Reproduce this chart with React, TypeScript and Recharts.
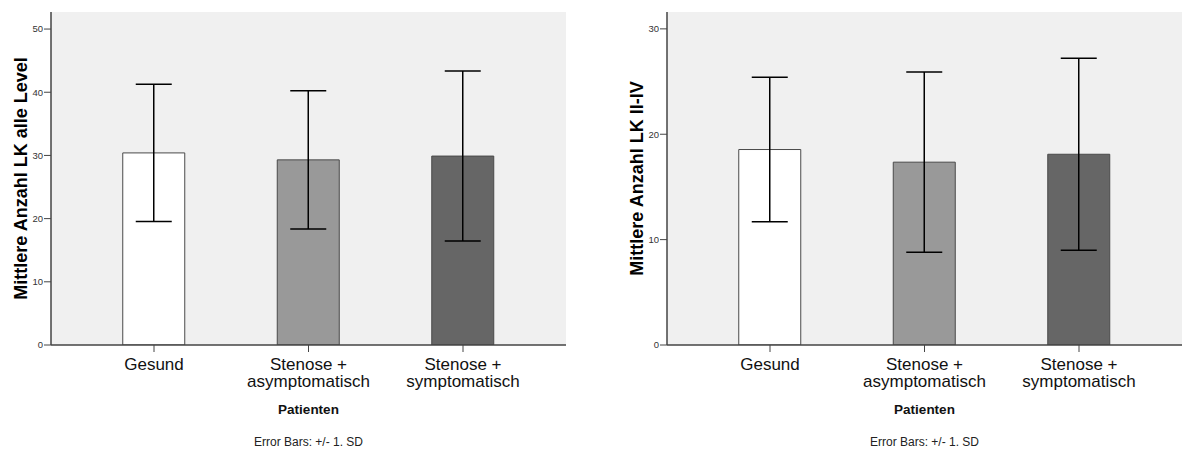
import React from 'react';
import {
  BarChart,
  Bar,
  Cell,
  XAxis,
  YAxis,
  CartesianGrid,
  ErrorBar,
} from 'recharts';

// Gruppen (x-Achse)
const categories = ['Gesund', 'Stenose + asymptomatisch', 'Stenose + symptomatisch'];
const barFills = ['#ffffff', '#999999', '#666666'];

// Linkes Diagramm: alle Level
const allLevelMeans = [30.4, 29.3, 29.9];
const allLevelSD = [10.85, 10.95, 13.45];
const allLevelTicks = [0, 10, 20, 30, 40, 50];

// Rechtes Diagramm: Level II-IV
const level24Means = [18.55, 17.35, 18.1];
const level24SD = [6.85, 8.55, 9.1];
const level24Ticks = [0, 10, 20, 30];

const FONT = "Arial, 'Liberation Sans', sans-serif";
const LINE = '#444444';

const buildData = (means: number[], sds: number[]) =>
  categories.map((name, i) => ({ name, mean: means[i], sd: sds[i] }));

const CategoryTick = (props: any) => {
  const { x, y, payload } = props;
  const label: string = payload.value;
  const lines = label.includes(' + ') ? [label.split(' + ')[0] + ' +', label.split(' + ')[1]] : [label];
  return (
    <text x={x} y={y} textAnchor="middle" fontFamily={FONT} fontSize={17} fill="#111">
      {lines.map((l, i) => (
        <tspan key={i} x={x} dy={i === 0 ? 18 : 17}>
          {l}
        </tspan>
      ))}
    </text>
  );
};

type PanelProps = {
  width: number;
  means: number[];
  sds: number[];
  ticks: number[];
  yMax: number;
  yAxisWidth: number;
  marginRight: number;
  title: string;
  titleX: number;
};

const Panel: React.FC<PanelProps> = ({
  width,
  means,
  sds,
  ticks,
  yMax,
  yAxisWidth,
  marginRight,
  title,
  titleX,
}) => {
  const data = buildData(means, sds);
  return (
    <BarChart
      width={width}
      height={450}
      data={data}
      margin={{ top: 12, right: marginRight, left: 0, bottom: 0 }}
    >
      <CartesianGrid horizontal={false} vertical={false} fill="#f0f0f0" />
      <XAxis
        dataKey="name"
        height={105}
        tickSize={7}
        tickMargin={0}
        padding={{ left: 25.75, right: 25.75 }}
        axisLine={{ stroke: LINE, strokeWidth: 1.5 }}
        tickLine={{ stroke: LINE }}
        tick={<CategoryTick />}
        interval={0}
        label={{
          content: ({ viewBox }: any) => {
            const cx = viewBox.x + viewBox.width / 2;
            return (
              <g fontFamily={FONT}>
                <text x={cx} y={viewBox.y + 69} textAnchor="middle" fontSize={13.5} fontWeight="bold" fill="#111">
                  Patienten
                </text>
                <text x={cx} y={viewBox.y + 101} textAnchor="middle" fontSize={12} fill="#222">
                  Error Bars: +/- 1. SD
                </text>
              </g>
            );
          },
        }}
      />
      <XAxis xAxisId="top" orientation="top" dataKey="name" height={0} tick={false} tickLine={false} axisLine={{ stroke: LINE, strokeWidth: 1.5 }} />
      <YAxis
        domain={[0, yMax]}
        ticks={ticks}
        width={yAxisWidth}
        tickSize={7}
        tickMargin={1}
        allowDataOverflow
        axisLine={{ stroke: LINE, strokeWidth: 1.5 }}
        tickLine={{ stroke: LINE }}
        tick={{ fontFamily: FONT, fontSize: 9.5, fill: '#333' }}
        label={{
          content: ({ viewBox }: any) => {
            const cy = viewBox.y + viewBox.height / 2;
            return (
              <text
                x={titleX}
                y={cy}
                transform={`rotate(-90 ${titleX} ${cy})`}
                textAnchor="middle"
                fontFamily={FONT}
                fontSize={18}
                fontWeight="bold"
                fill="#000"
              >
                {title}
              </text>
            );
          },
        }}
      />
      <YAxis yAxisId="right" orientation="right" width={0} tick={false} tickLine={false} axisLine={{ stroke: LINE, strokeWidth: 1.5 }} />
      <Bar dataKey="mean" barSize={62} stroke="#4a4a4a" strokeWidth={1} isAnimationActive={false}>
        {data.map((d, i) => (
          <Cell key={d.name} fill={barFills[i]} />
        ))}
        <ErrorBar dataKey="sd" width={18} stroke="#000" strokeWidth={1.5} direction="y" isAnimationActive={false} />
      </Bar>
    </BarChart>
  );
};

export default function App() {
  return (
    <div style={{ position: 'absolute', left: 0, top: 0, width: 1189, height: 450, background: '#fff' }}>
      <div style={{ position: 'absolute', left: 0, top: 0 }}>
        <Panel
          width={594}
          means={allLevelMeans}
          sds={allLevelSD}
          ticks={allLevelTicks}
          yMax={52.7}
          yAxisWidth={51}
          marginRight={28}
          title="Mittlere Anzahl LK alle Level"
          titleX={27}
        />
      </div>
      <div style={{ position: 'absolute', left: 594, top: 0 }}>
        <Panel
          width={595}
          means={level24Means}
          sds={level24SD}
          ticks={level24Ticks}
          yMax={31.6}
          yAxisWidth={73}
          marginRight={7}
          title="Mittlere Anzahl LK II-IV"
          titleX={49}
        />
      </div>
    </div>
  );
}
